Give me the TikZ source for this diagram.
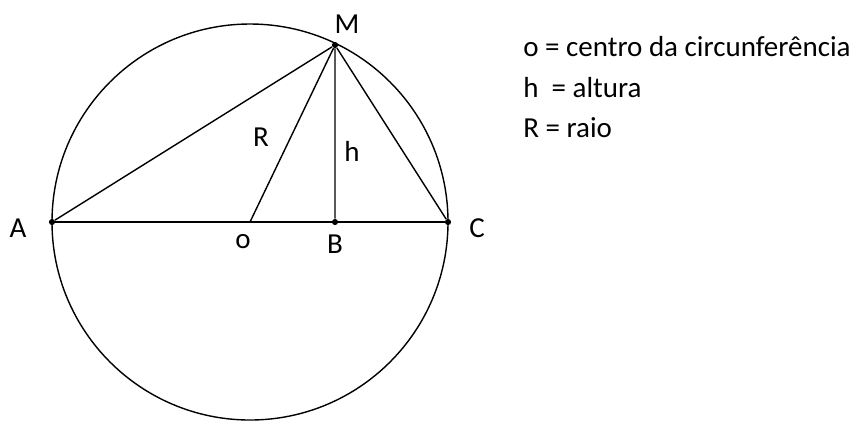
\documentclass[tikz,border=0pt]{standalone}
\usepackage{fontspec}
\setmainfont{Carlito}
\begin{document}
\begin{tikzpicture}[x=0.02cm, y=-0.02cm, every node/.style={font=\fontsize{16.5}{19}\selectfont},
  lbl/.style={inner sep=0pt},
  pt/.style={circle,fill=black,inner sep=0pt,minimum size=3.5pt},
  seg/.style={line width=0.8pt}]
\useasboundingbox (0,0) rectangle (857,424);
\coordinate (o) at (250,222);
\node[pt] (M) at (335,45) {};
\node[pt] (A) at (52,222) {};
\node[pt] (C) at (448,222) {};
\node[pt] (B) at (335,222) {};
\draw[seg] (o) circle (198);
\draw[seg] (A) -- (C);
\draw[seg] (A) -- (M) -- (C);
\draw[seg] (o) -- (M) -- (B);
\node[lbl] (lM) at (347,24) {M};
\node[lbl] (lA) at (18,228) {A};
\node[lbl] (lC) at (477,228) {C};
\node[lbl] (lo) at (243,242) {o};
\node[lbl] (lB) at (335,244) {B};
\node[lbl] (lR) at (261,137) {R};
\node[lbl] (lh) at (352,151) {h};
\node[lbl,anchor=west] (k1) at (523,47) {o = centro da circunferência};
\node[lbl,anchor=west] (k2) at (523,88) {h \ = altura};
\node[lbl,anchor=west] (k3) at (523,128) {R = raio};
\end{tikzpicture}
\end{document}
